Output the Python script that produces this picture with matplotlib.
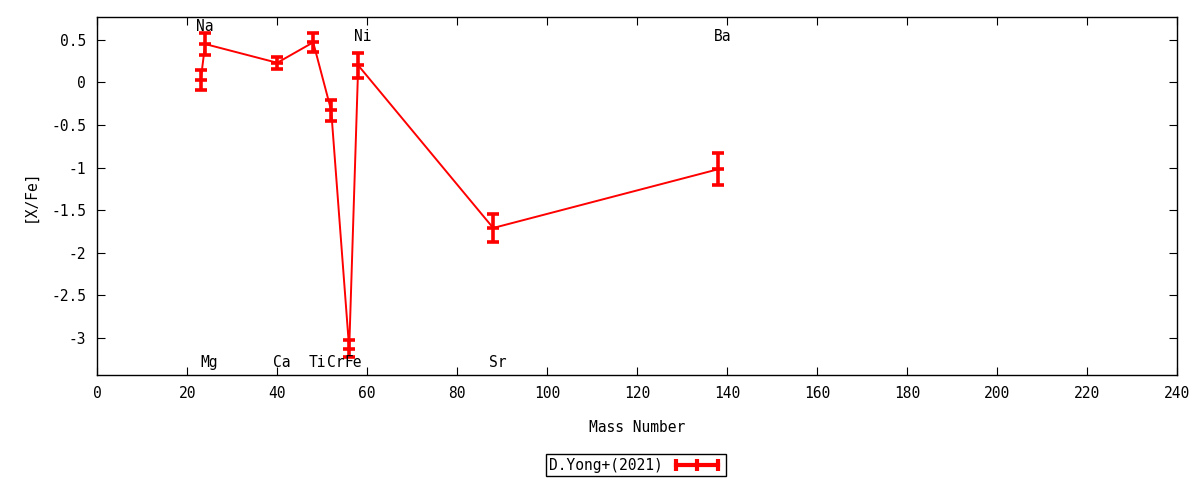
import matplotlib
matplotlib.use('Agg')
import matplotlib.pyplot as plt
from matplotlib.lines import Line2D
from matplotlib.ticker import FuncFormatter

# abundance pattern
elements = ['Na', 'Mg', 'Ca', 'Ti', 'Cr', 'Fe', 'Ni', 'Sr', 'Ba']
mass = [23, 24, 40, 48, 52, 56, 58, 88, 138]
xfe = [0.03, 0.45, 0.23, 0.47, -0.33, -3.13, 0.20, -1.71, -1.02]
err = [0.12, 0.13, 0.07, 0.11, 0.12, 0.10, 0.15, 0.165, 0.19]

# label placement (top or bottom row)
label_y = [0.66, -3.29, -3.29, -3.29, -3.29, -3.29, 0.54, -3.29, 0.54]

plt.rcParams['font.family'] = ['DejaVu Sans Mono']
plt.rcParams['font.size'] = 10

fig = plt.figure(figsize=(12, 4.8), dpi=100)
ax = fig.add_axes([0.081, 0.219, 0.9, 0.746])

ax.errorbar(mass, xfe, yerr=err, color='#ff0000', lw=1.4, elinewidth=2.6,
            capsize=4, capthick=2.6, marker='_', ms=9, mew=2.6)

for el, m, ly in zip(elements, mass, label_y):
    ax.text(m - 1, ly, el, ha='left', va='center', fontsize=10.5)

ax.set_xlim(0, 240)
ax.set_ylim(-3.435, 0.77)
ax.set_xticks(range(0, 241, 20))
ax.set_yticks([0.5, 0, -0.5, -1, -1.5, -2, -2.5, -3])
ax.yaxis.set_major_formatter(FuncFormatter(lambda v, p: ('%g' % v)))
ax.xaxis.set_major_formatter(FuncFormatter(lambda v, p: ('%g' % v)))
ax.tick_params(direction='in', top=True, right=True, length=6, labelsize=10.5, pad=8)
for s in ax.spines.values():
    s.set_linewidth(1.0)

ax.set_xlabel('Mass Number', fontsize=10.5, labelpad=14)
ax.set_ylabel('[X/Fe]', fontsize=10.5, labelpad=10)

# legend key drawn like gnuplot's errorbar sample
handle = Line2D([0], [0], color='#ff0000', lw=3, marker='|', ms=9, mew=3)
leg = fig.legend([handle], ['D.Yong+(2021)'], loc='center', bbox_to_anchor=(0.53, 0.031),
                 markerfirst=False, numpoints=3, fancybox=False, framealpha=1,
                 edgecolor='black', fontsize=10.5, handlelength=3.5,
                 borderpad=0.25, handletextpad=0.6)
leg.get_frame().set_linewidth(1.0)

fig.savefig('out.png', dpi=100)
